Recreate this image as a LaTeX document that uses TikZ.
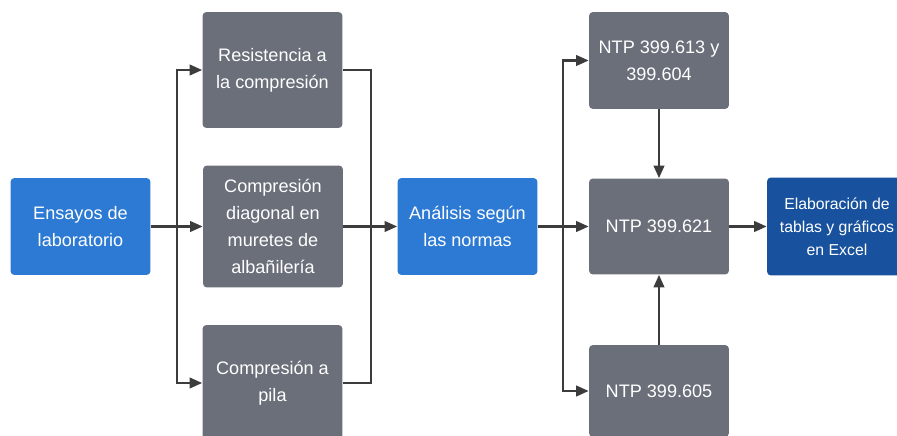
\documentclass[tikz,border=0pt]{standalone}
\usepackage{fontspec}
\setmainfont{Liberation Sans}
\usetikzlibrary{arrows.meta}
\definecolor{boxblue}{RGB}{44,122,212}
\definecolor{boxnavy}{RGB}{24,82,158}
\definecolor{boxgray}{RGB}{106,111,122}
\definecolor{linegray}{RGB}{60,60,60}

\begin{document}
\begin{tikzpicture}[x=0.02cm,y=-0.02cm,>={Triangle[length=2.5mm,width=2.1mm]},
  card/.style={rounded corners=0.08cm,text=white,align=center,inner sep=2pt,
    minimum width=2.8cm,font=\fontsize{10.3}{15.5}\selectfont},
  bluecard/.style={card,fill=boxblue},
  graycard/.style={card,fill=boxgray},
  link/.style={draw=linegray,line width=1.3pt}]
\clip (0,0) rectangle (897,436);
\fill[white] (0,0) rectangle (897,436);
% first column
\node[bluecard,minimum height=1.94cm] (ens) at (80.5,226.5) {Ensayos de\\laboratorio};
% tests
\node[graycard,minimum height=2.32cm] (res) at (272.5,70) {Resistencia a\\la compresión};
\node[graycard,minimum height=2.44cm] (dia) at (273,226.5) {Compresión\\diagonal en\\muretes de\\albañilería};
\node[graycard,minimum height=2.32cm] (pila) at (272.5,383) {Compresión a\\pila};
% analysis
\node[bluecard,minimum height=1.94cm] (ana) at (467.5,226.5) {Análisis según\\las normas};
% standards
\node[graycard,minimum height=1.94cm] (n613) at (659,60.5) {NTP 399.613 y\\399.604};
\node[graycard,minimum height=1.92cm] (n621) at (659,226.5) {NTP 399.621};
\node[graycard,minimum height=1.84cm] (n605) at (659,391) {NTP 399.605};
% result
\node[card,fill=boxnavy,minimum height=1.96cm,font=\fontsize{9}{13.2}\selectfont] (xls) at (837,226.5) {Elaboración de\\tablas y gráficos\\en Excel};
% connectors
\coordinate (s1) at (177,226.5);
\coordinate (m1) at (371,226.5);
\coordinate (s2) at (563,226.5);
\draw[link,->] (ens) -- (dia);
\draw[link,->] (s1) |- (res);
\draw[link,->] (s1) |- (pila);
\draw[link] (res) -| (m1);
\draw[link] (pila) -| (m1);
\draw[link,->] (dia) -- (ana);
\draw[link,->] (ana) -- (n621);
\draw[link,->] (s2) |- (n613);
\draw[link,->] (s2) |- (n605);
\draw[link,->] (n613) -- (n621);
\draw[link,->] (n605) -- (n621);
\draw[link,->] (n621) -- (xls);
\end{tikzpicture}
\end{document}
